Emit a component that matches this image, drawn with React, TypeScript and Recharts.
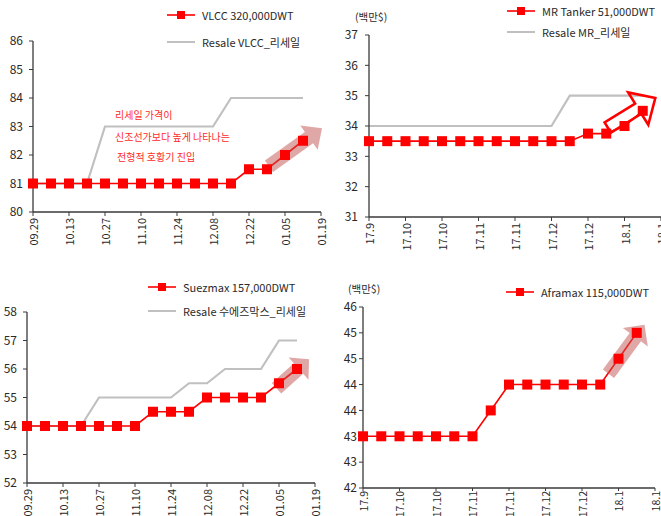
import React from "react";
import { LineChart, Line, XAxis, YAxis, Legend, ReferenceDot } from "recharts";

// ---------- data ----------
const weeks = ["09.29","10.06","10.13","10.20","10.27","11.03","11.10","11.17","11.24","12.01","12.08","12.15","12.22","12.29","01.05","01.12","01.19"];
const tickDates = ["09.29","10.13","10.27","11.10","11.24","12.08","12.22","01.05","01.19"];
const monthLabels = ["17.9","17.10","17.10","17.11","17.11","17.12","17.12","18.1","18.1"];

const vlccNew = [81,81,81,81,81,81,81,81,81,81,81,81,81.5,81.5,82,82.5];
const vlccResale = [81,81,81,81,83,83,83,83,83,83,83,84,84,84,84,84];
const mrNew = [33.5,33.5,33.5,33.5,33.5,33.5,33.5,33.5,33.5,33.5,33.5,33.5,33.75,33.75,34,34.5];
const mrResale = [34,34,34,34,34,34,34,34,34,34,34,35,35,35,35,35];
const suezNew = [54,54,54,54,54,54,54,54.5,54.5,54.5,55,55,55,55,55.5,56];
const suezResale = [54,54,54,54,55,55,55,55,55,55.5,55.5,56,56,56,57,57];
const aframaxNew = [43,43,43,43,43,43,43,43.5,44,44,44,44,44,44,44.5,45];

const vlccTicks = [80,81,82,83,84,85,86];
const mrTicks = [31,32,33,34,35,36,37];
const suezTicks = [52,53,54,55,56,57,58];
const afraTicks = [42,42.5,43,43.5,44,44.5,45,45.5];

const annotation = ["리세일 가격이", "신조선가보다 높게 나타나는", "전형적 호황기 진입"];

// ---------- style ----------
const FONT = "'Noto Sans CJK KR', 'Noto Sans', sans-serif";
const AXIS = "#3a3a3a";
const TEXT = "#2a2a2a";
const RED = "#ff0000";
const GRAY = "#c0c0c0";
const ARROW = "#C0504D";

function buildRows(a: number[], b?: number[]) {
  return weeks.map((w, i) => ({
    week: w,
    newbuild: i < a.length ? a[i] : null,
    resale: b && i < b.length ? b[i] : null,
  }));
}

const SquareDot = (props: any) => {
  const { cx, cy, index } = props;
  if (cx == null || cy == null || isNaN(cy)) return <g key={`e-${index}`} />;
  return <rect key={`d-${index}`} x={cx - 5} y={cy - 5} width={10} height={10} fill={RED} />;
};

function arrowPoints(tx: number, ty: number, px: number, py: number, s: number, h: number, L: number) {
  const dx = px - tx, dy = py - ty;
  const len = Math.sqrt(dx * dx + dy * dy);
  const ux = dx / len, uy = dy / len;
  const nx = -uy, ny = ux;
  const kx = px - ux * L, ky = py - uy * L;
  const pts = [
    [tx + nx * s, ty + ny * s],
    [kx + nx * s, ky + ny * s],
    [kx + nx * h, ky + ny * h],
    [px, py],
    [kx - nx * h, ky - ny * h],
    [kx - nx * s, ky - ny * s],
    [tx - nx * s, ty - ny * s],
  ];
  return pts.map((p) => `${p[0].toFixed(1)},${p[1].toFixed(1)}`).join(" ");
}

type ArrowSpec = { x: string; y: number; t: [number, number]; p: [number, number]; s: number; h: number; L: number; hollow?: boolean };

function makeArrowShape(a: ArrowSpec) {
  return (props: any) => {
    const { cx, cy } = props;
    if (cx == null || cy == null) return <g />;
    const pts = arrowPoints(cx + a.t[0], cy + a.t[1], cx + a.p[0], cy + a.p[1], a.s, a.h, a.L);
    return a.hollow ? (
      <polygon points={pts} fill="none" stroke={RED} strokeWidth={2.6} strokeLinejoin="miter" />
    ) : (
      <polygon points={pts} fill={ARROW} fillOpacity={0.5} stroke="none" />
    );
  };
}

const LegendBox = ({ items, rowH }: { items: { name: string; color: string; marker: boolean }[]; rowH: number }) => (
  <div style={{ display: "flex", flexDirection: "column", fontFamily: FONT, fontSize: 11, color: TEXT }}>
    {items.map((it) => (
      <div key={it.name} style={{ height: rowH, display: "flex", alignItems: "center", whiteSpace: "nowrap" }}>
        <svg width={28} height={10} style={{ display: "block" }}>
          <line x1={0} y1={5} x2={28} y2={5} stroke={it.color} strokeWidth={it.marker ? 1.6 : 2} />
          {it.marker && <rect x={10} y={1} width={8} height={8} fill={RED} />}
        </svg>
        <span style={{ marginLeft: 7 }}>{it.name}</span>
      </div>
    ))}
  </div>
);

type PanelProps = {
  left: number; top: number; width: number; height: number;
  margin: { top: number; right: number; bottom: number; left: number };
  yWidth: number; xHeight: number; domain: [number, number]; yTicks: number[];
  yTickMargin: number; xTickSize: number; xTickMargin: number; xFont: number;
  labels: string[]; yFmt?: (v: number) => string;
  newData: number[]; newName: string; resaleData?: number[]; resaleName?: string;
  legendPos: { left: number; top: number }; rowH: number;
  arrow: ArrowSpec;
};

function Panel(p: PanelProps) {
  const data = buildRows(p.newData, p.resaleData);
  const XTick = (props: any) => {
    const { x, y, payload } = props;
    const i = tickDates.indexOf(payload.value);
    const label = i >= 0 ? p.labels[i] : payload.value;
    return (
      <text x={x} y={y} transform={`rotate(-90 ${x} ${y})`} textAnchor="end" dominantBaseline="central" fontSize={p.xFont} fill={TEXT}>
        {label}
      </text>
    );
  };
  const items = [{ name: p.newName, color: RED, marker: true }];
  if (p.resaleData && p.resaleName) items.push({ name: p.resaleName, color: GRAY, marker: false });
  return (
    <div style={{ position: "absolute", left: p.left, top: p.top }}>
      <LineChart width={p.width} height={p.height} data={data} margin={p.margin}>
        <XAxis
          dataKey="week"
          type="category"
          scale="point"
          ticks={tickDates}
          interval={0}
          tick={XTick}
          tickSize={p.xTickSize}
          tickMargin={p.xTickMargin}
          height={p.xHeight}
          axisLine={{ stroke: AXIS, strokeWidth: 1.3 }}
          tickLine={{ stroke: AXIS }}
          padding={{ left: 0, right: 0 }}
        />
        <YAxis
          type="number"
          domain={p.domain}
          ticks={p.yTicks}
          interval={0}
          width={p.yWidth}
          tickSize={4}
          tickMargin={p.yTickMargin}
          tickFormatter={p.yFmt}
          tick={{ fontSize: 12, fill: TEXT }}
          axisLine={{ stroke: AXIS, strokeWidth: 1.3 }}
          tickLine={{ stroke: AXIS }}
          allowDecimals
        />
        {p.resaleData && (
          <Line
            dataKey="resale"
            name={p.resaleName}
            stroke={GRAY}
            strokeWidth={2.2}
            dot={false}
            activeDot={false}
            isAnimationActive={false}
            type="linear"
          />
        )}
        <Line
          dataKey="newbuild"
          name={p.newName}
          stroke={RED}
          strokeWidth={1.6}
          dot={SquareDot}
          activeDot={false}
          isAnimationActive={false}
          type="linear"
        />
        <ReferenceDot x={p.arrow.x} y={p.arrow.y} ifOverflow="visible" shape={makeArrowShape(p.arrow)} />
        <Legend
          layout="vertical"
          align="center"
          verticalAlign="middle"
          wrapperStyle={{ left: p.legendPos.left, top: p.legendPos.top, width: "auto", height: "auto" }}
          content={() => <LegendBox items={items} rowH={p.rowH} />}
        />
      </LineChart>
    </div>
  );
}

export default function App() {
  return (
    <div
      style={{
        position: "fixed",
        left: 0,
        top: 0,
        width: 661,
        height: 516,
        overflow: "hidden",
        background: "#ffffff",
        fontFamily: FONT,
      }}
    >
      <Panel
        left={0} top={0} width={330} height={250}
        margin={{ top: 41, right: 9, bottom: 8, left: 3 }}
        yWidth={30} xHeight={30} domain={[80, 86]} yTicks={vlccTicks}
        yTickMargin={6} xTickSize={4} xTickMargin={2} xFont={11}
        labels={tickDates}
        newData={vlccNew} newName="VLCC 320,000DWT"
        resaleData={vlccResale} resaleName="Resale VLCC_리세일"
        legendPos={{ left: 167, top: 1 }} rowH={27}
        arrow={{ x: weeks[13], y: vlccNew[13], t: [2, -3], p: [55, -41], s: 7, h: 15, L: 16 }}
      />
      <Panel
        left={330} top={0} width={345} height={252}
        margin={{ top: 35, right: 14, bottom: 5, left: 9 }}
        yWidth={30} xHeight={30} domain={[31, 37]} yTicks={mrTicks}
        yTickMargin={7} xTickSize={4} xTickMargin={2} xFont={11}
        labels={monthLabels}
        newData={mrNew} newName="MR Tanker 51,000DWT"
        resaleData={mrResale} resaleName="Resale MR_리세일"
        legendPos={{ left: 177, top: 0 }} rowH={21}
        arrow={{ x: weeks[13], y: mrNew[13], t: [1.5, -6], p: [49, -35.5], s: 6, h: 19, L: 20, hollow: true }}
      />
      <Panel
        left={0} top={260} width={330} height={256}
        margin={{ top: 52, right: 15, bottom: 3, left: 3 }}
        yWidth={24} xHeight={30} domain={[52, 58]} yTicks={suezTicks}
        yTickMargin={6} xTickSize={4} xTickMargin={2} xFont={11}
        labels={tickDates}
        newData={suezNew} newName="Suezmax 157,000DWT"
        resaleData={suezResale} resaleName="Resale 수에즈막스_리세일"
        legendPos={{ left: 148, top: 15 }} rowH={24}
        arrow={{ x: weeks[14], y: suezNew[14], t: [-2.5, 5], p: [30, -24], s: 7, h: 15, L: 14 }}
      />
      <Panel
        left={330} top={260} width={340} height={256}
        margin={{ top: 47, right: 15, bottom: 3, left: 3 }}
        yWidth={30} xHeight={25} domain={[42, 45.5]} yTicks={afraTicks}
        yTickMargin={2} xTickSize={3} xTickMargin={0} xFont={10.5}
        yFmt={(v: number) => String(Math.round(v))}
        labels={monthLabels}
        newData={aframaxNew} newName="Aframax 115,000DWT"
        legendPos={{ left: 176, top: 22 }} rowH={20}
        arrow={{ x: weeks[14], y: aframaxNew[14], t: [-10, 15], p: [26, -34], s: 7, h: 15.5, L: 15.5 }}
      />
      {/* unit labels */}
      <div style={{ position: "absolute", left: 355, top: 10, fontSize: 10.5, color: TEXT, lineHeight: "14px" }}>(백만$)</div>
      <div style={{ position: "absolute", left: 348, top: 282, fontSize: 10.5, color: TEXT, lineHeight: "14px" }}>(백만$)</div>
      {/* annotation */}
      {annotation.map((t, i) => (
        <div
          key={t}
          style={{
            position: "absolute",
            left: i === 2 ? 117 : 115,
            top: [109, 131, 151][i],
            fontSize: 10,
            lineHeight: "12px",
            color: "#ff2a2a",
            whiteSpace: "nowrap",
          }}
        >
          {t}
        </div>
      ))}
    </div>
  );
}
